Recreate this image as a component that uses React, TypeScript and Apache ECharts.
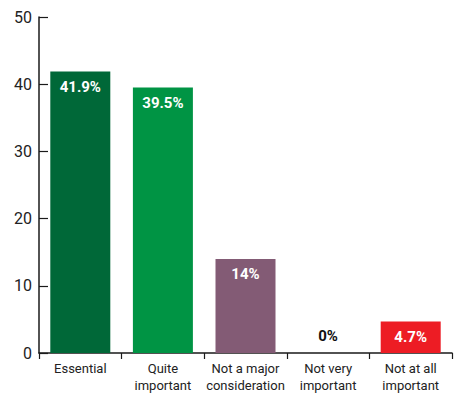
import React, { useEffect, useRef } from "react";
import * as echarts from "echarts";

const categories = ["Essential", "Quite\nimportant", "Not a major\nconsideration", "Not very\nimportant", "Not at all\nimportant"];
const values = [41.9, 39.5, 14, 0, 4.7];
const labels = ["41.9%", "39.5%", "14%", "0%", "4.7%"];
const colors = ["#006838", "#009444", "#835b75", "#ffffff", "#ed1c24"];
const yTicks = [0, 10, 20, 30, 40, 50];

export default function App() {
  const ref = useRef<HTMLDivElement>(null);
  useEffect(() => {
    if (!ref.current) return;
    const chart = echarts.init(ref.current, undefined, { renderer: "svg" });
    const axisColor = "#1a1a1a";
    chart.setOption({
      animation: false,
      grid: { left: 39, right: 2, top: 17, bottom: 40, containLabel: false },
      xAxis: {
        type: "category",
        data: categories,
        axisLine: { lineStyle: { color: axisColor, width: 1.5 } },
        axisTick: { show: true, length: 6, lineStyle: { color: axisColor, width: 1.2 } },
        axisLabel: {
          color: "#222",
          fontFamily: "Roboto",
          fontSize: 13,
          lineHeight: 17,
          margin: 7,
          interval: 0,
        },
      },
      yAxis: {
        type: "value",
        min: yTicks[0],
        max: yTicks[yTicks.length - 1],
        interval: 10,
        splitLine: { show: false },
        axisLine: { show: true, lineStyle: { color: axisColor, width: 1.5 } },
        axisTick: { show: true, inside: true, length: 9, lineStyle: { color: axisColor, width: 1.2 } },
        axisLabel: { color: "#222", fontFamily: "Roboto", fontSize: 16, margin: 7 },
      },
      series: [
        {
          type: "bar",
          barWidth: 60,
          data: values.map((v, i) => ({
            value: v,
            itemStyle: { color: colors[i] },
            label: {
              show: true,
              position: v === 0 ? "top" : "insideTop",
              distance: v === 0 ? 10 : 8,
              formatter: labels[i],
              color: v === 0 ? "#111" : "#fff",
              fontFamily: "Roboto",
              fontWeight: "bold",
              fontSize: 15,
            },
          })),
        },
      ],
    });
    return () => chart.dispose();
  }, []);
  return <div ref={ref} style={{ width: 454, height: 394, position: "absolute", left: 0, top: 0 }} />;
}
